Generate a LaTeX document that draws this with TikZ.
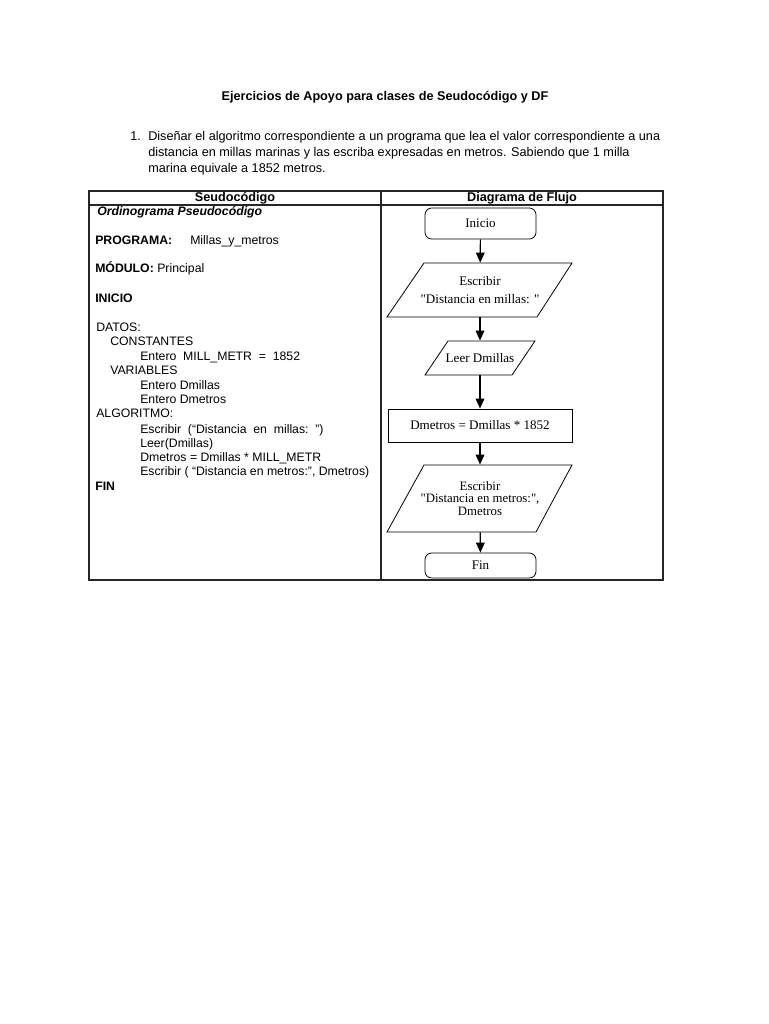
\documentclass[tikz,border=0pt]{standalone}
\usepackage{fontspec}
\setmainfont{Liberation Sans}
\newfontfamily\tms{Liberation Serif}
\usetikzlibrary{arrows.meta}
\begin{document}
\begin{tikzpicture}[x=0.75pt,y=-0.75pt,
  txt/.style={anchor=base west,inner sep=0pt,font=\fontsize{9.5}{11}\selectfont},
  ps/.style={txt,font=\fontsize{9.2}{11}\selectfont},
  fc/.style={line width=0.6pt,font=\tms\fontsize{9.8}{12}\selectfont,align=center,inner sep=0pt},
  shp/.style={draw,line width=0.6pt},
  arr/.style={-{Triangle[length=7.5pt,width=6.5pt]},line width=0.9pt}]
\useasboundingbox[fill=white] (0,0) rectangle (768,1024);
% title and statement
\node[txt,anchor=base] (title) at (385,100) {\bfseries Ejercicios de Apoyo para clases de Seudocódigo y DF};
\node[txt] (num) at (130,140) {1.};
\node[txt] (l1) at (148,140) {Diseñar el algoritmo correspondiente a un programa que lea el valor correspondiente a una};
\node[txt] (l2) at (148,156) {distancia en millas marinas y las escriba expresadas en metros. Sabiendo que 1 milla};
\node[txt] (l3) at (148,172) {marina equivale a 1852 metros.};
% table
\draw[line width=0.9pt,draw=black!85] (89,191) rectangle (663,580);
\draw[line width=0.9pt,draw=black!85] (381,191) -- (381,580);
\draw[line width=0.9pt,draw=black!85] (89,205) -- (663,205);
\node[txt,anchor=base] (h1) at (235,201) {\bfseries Seudocódigo};
\node[txt,anchor=base] (h2) at (522,201) {\bfseries Diagrama de Flujo};
% pseudocode
\node[ps] (p1) at (97,215) {\bfseries\itshape Ordinograma Pseudocódigo};
\node[ps] (p2) at (95,244) {\bfseries PROGRAMA:};
\node[ps] (p2b) at (190,244) {Millas\_y\_metros};
\node[ps] (p3) at (95,272) {\bfseries MÓDULO: \mdseries Principal};
\node[ps] (p4) at (95,302) {\bfseries INICIO};
\node[ps] (p5) at (96,331) {DATOS:};
\node[ps] (p6) at (110,345) {CONSTANTES};
\node[ps] (p7) at (140,360) {Entero\ \ MILL\_METR\ \ =\ \ 1852};
\node[ps] (p8) at (110,374) {VARIABLES};
\node[ps] (p9) at (140,389) {Entero Dmillas};
\node[ps] (p10) at (140,403) {Entero Dmetros};
\node[ps] (p11) at (96,417) {ALGORITMO:};
\node[ps] (p12) at (140,433) {Escribir\ \ (“Distancia\ \ en\ \ millas:\ \ ”)};
\node[ps] (p13) at (140,447) {Leer(Dmillas)};
\node[ps] (p14) at (140,461) {Dmetros = Dmillas * MILL\_METR};
\node[ps] (p15) at (140,475) {Escribir ( “Distancia en metros:”, Dmetros)};
\node[ps] (p16) at (95,490) {\bfseries FIN};
% flowchart
\node[fc,draw,rounded corners=5pt,minimum width=111*0.75pt,minimum height=31*0.75pt] (ini) at (480.5,223.5) {Inicio};
\node[fc,minimum width=150*0.75pt,minimum height=54*0.75pt] (e1) at (480,290) {Escribir\\[1pt]"Distancia en millas: "};
\draw[shp] (424,263) -- (572,263) -- (537,317) -- (387,317) -- cycle;
\node[fc,minimum width=87*0.75pt,minimum height=34*0.75pt] (leer) at (480,358) {Leer Dmillas};
\draw[shp] (448,341) -- (535,341) -- (512,375) -- (425,375) -- cycle;
\node[fc,draw,minimum width=184*0.75pt,minimum height=33*0.75pt] (calc) at (480,425.5) {Dmetros = Dmillas * 1852};
\node[fc,minimum width=150*0.75pt,minimum height=67*0.75pt,font=\tms\fontsize{9.6}{9.6}\selectfont] (e2) at (480,498.5) {Escribir\\"Distancia en metros:",\\Dmetros};
\draw[shp] (424,465) -- (572,465) -- (536,532) -- (387,532) -- cycle;
\node[fc,draw,rounded corners=5pt,minimum width=111*0.75pt,minimum height=25*0.75pt] (fin) at (480.5,565.5) {Fin};
\draw[arr] (ini) -- (e1);
\draw[arr] (e1) -- (leer);
\draw[arr] (leer) -- (calc);
\draw[arr] (calc) -- (e2);
\draw[arr] (e2) -- (fin);
\end{tikzpicture}
\end{document}
